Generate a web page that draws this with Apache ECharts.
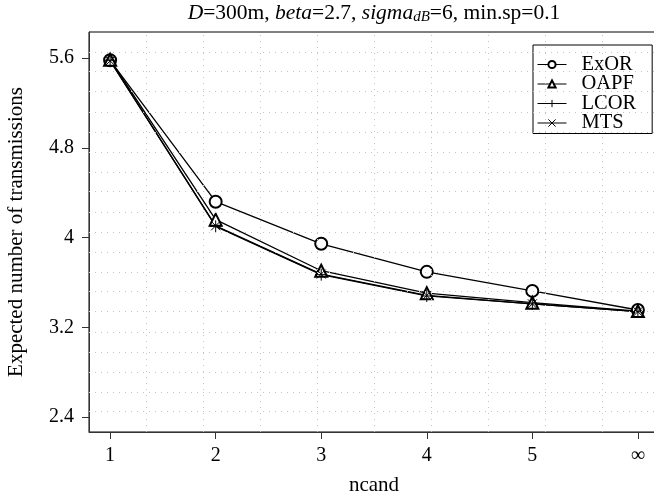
<!DOCTYPE html>
<html>
<head>
<meta charset="utf-8">
<script src="https://cdn.jsdelivr.net/npm/echarts@6/dist/echarts.min.js"></script>
<style>html,body{margin:0;padding:0;background:#fff}#c{width:654px;height:498px}</style>
</head>
<body>
<div id="c"></div>
<script>
// ---- data ----
const xPos = [1, 2, 3, 4, 5, 6];
const xLabels = ['1', '2', '3', '4', '5', '\u221E'];
const yTicks = [2.4, 3.2, 4.0, 4.8, 5.6];
const exor = [5.58, 4.32, 3.945, 3.695, 3.525, 3.355];
const oapf = [5.585, 4.16, 3.705, 3.505, 3.42, 3.345];
const lcor = [5.58, 4.10, 3.67, 3.48, 3.41, 3.34];
const mts  = [5.575, 4.105, 3.675, 3.485, 3.41, 3.34];
const seriesNames = ['ExOR', 'OAPF', 'LCOR', 'MTS'];

// ---- layout ----
const X_MIN = 0.8, X_MAX = 6.2, Y_MIN = 2.268, Y_MAX = 5.832;
const gridX = Array.from({length: 9}, (_, k) => X_MIN + (X_MAX - X_MIN) * (k + 1) / 10);
const gridY = Array.from({length: 19}, (_, k) => Y_MIN + (Y_MAX - Y_MIN) * (k + 1) / 20);
const FONT = 'Liberation Serif';

const pairs = arr => arr.map((v, i) => [xPos[i], v]);
const PLUS = 'path://M0,5L10,5M5,0L5,10';
const CROSS = 'path://M0,0L10,10M10,0L0,10';

function mk(name, data, symbol, size) {
  return {
    name, type: 'line', data: pairs(data), symbol, symbolSize: size,
    lineStyle: {color: '#000', width: 1.3},
    itemStyle: {color: '#000', borderColor: '#000', borderWidth: 1},
    z: 3, animation: false
  };
}

const chart = echarts.init(document.getElementById('c'), null, {renderer: 'canvas'});
chart.setOption({
  animation: false,
  backgroundColor: '#fff',
  textStyle: {fontFamily: FONT},
  grid: {left: 89, top: 32, width: 570, height: 400, show: true, borderColor: '#000', borderWidth: 1,
         containLabel: false, outerBoundsMode: 'none'},
  xAxis: {
    type: 'value', min: X_MIN, max: X_MAX,
    name: 'ncand', nameLocation: 'middle', nameGap: 43,
    nameTextStyle: {fontFamily: FONT, fontSize: 21, color: '#000'},
    axisLine: {show: true, lineStyle: {color: '#333', width: 1}},
    axisTick: {show: true, length: 7, lineStyle: {color: '#333'}, customValues: xPos},
    axisLabel: {customValues: xPos, margin: 14, fontFamily: FONT, fontSize: 20, color: '#000',
      formatter: v => { const i = xPos.indexOf(Math.round(v)); return i >= 0 ? xLabels[i] : ''; }},
    splitLine: {show: false}
  },
  yAxis: {
    type: 'value', min: Y_MIN, max: Y_MAX,
    name: 'Expected number of transmissions', nameLocation: 'middle', nameGap: 62, nameRotate: 90,
    nameTextStyle: {fontFamily: FONT, fontSize: 21, color: '#000'},
    axisLine: {show: true, lineStyle: {color: '#333', width: 1}},
    axisTick: {show: true, length: 7, lineStyle: {color: '#333'}, customValues: yTicks},
    axisLabel: {customValues: yTicks, margin: 15, fontFamily: FONT, fontSize: 20, color: '#000',
      formatter: v => String(Math.round(v * 10) / 10)},
    splitLine: {show: false}
  },
  legend: {
    orient: 'vertical', left: 533, top: 45,
    data: seriesNames,
    backgroundColor: '#fff', borderColor: '#000', borderWidth: 1,
    padding: [9, 16, 0, 4], itemGap: -1.5, itemWidth: 29, itemHeight: 9,
    itemStyle: {borderWidth: 1},
    lineStyle: {width: 1},
    textStyle: {fontFamily: FONT, fontSize: 20.5, color: '#000', padding: [0, 0, 0, 10]}
  },
  graphic: [{
    type: 'text', x: 374, y: 13,
    style: {
      text: '{i|D}=300m, {i|beta}=2.7, {i|sigma}{s|dB}=6, min.sp=0.1',
      align: 'center', verticalAlign: 'middle',
      fontFamily: FONT, fontSize: 21.5, fill: '#000',
      rich: {
        i: {fontFamily: FONT, fontSize: 21.5, fontStyle: 'italic'},
        s: {fontFamily: FONT, fontSize: 15, fontStyle: 'italic', padding: [9, 0, 0, 0]}
      }
    }
  }],
  series: [
    {
      name: 'grid', type: 'line', data: [], silent: true, z: 1,
      markLine: {
        silent: true, symbol: 'none', label: {show: false},
        lineStyle: {color: '#c4c4c4', type: [1, 5], width: 1},
        data: gridX.map(v => ({xAxis: v})).concat(gridY.map(v => ({yAxis: v})))
      }
    },
    mk('ExOR', exor, 'emptyCircle', 12),
    mk('OAPF', oapf, 'emptyTriangle', 12),
    mk('LCOR', lcor, PLUS, 12),
    mk('MTS', mts, CROSS, 9)
  ]
});
</script>
</body>
</html>
